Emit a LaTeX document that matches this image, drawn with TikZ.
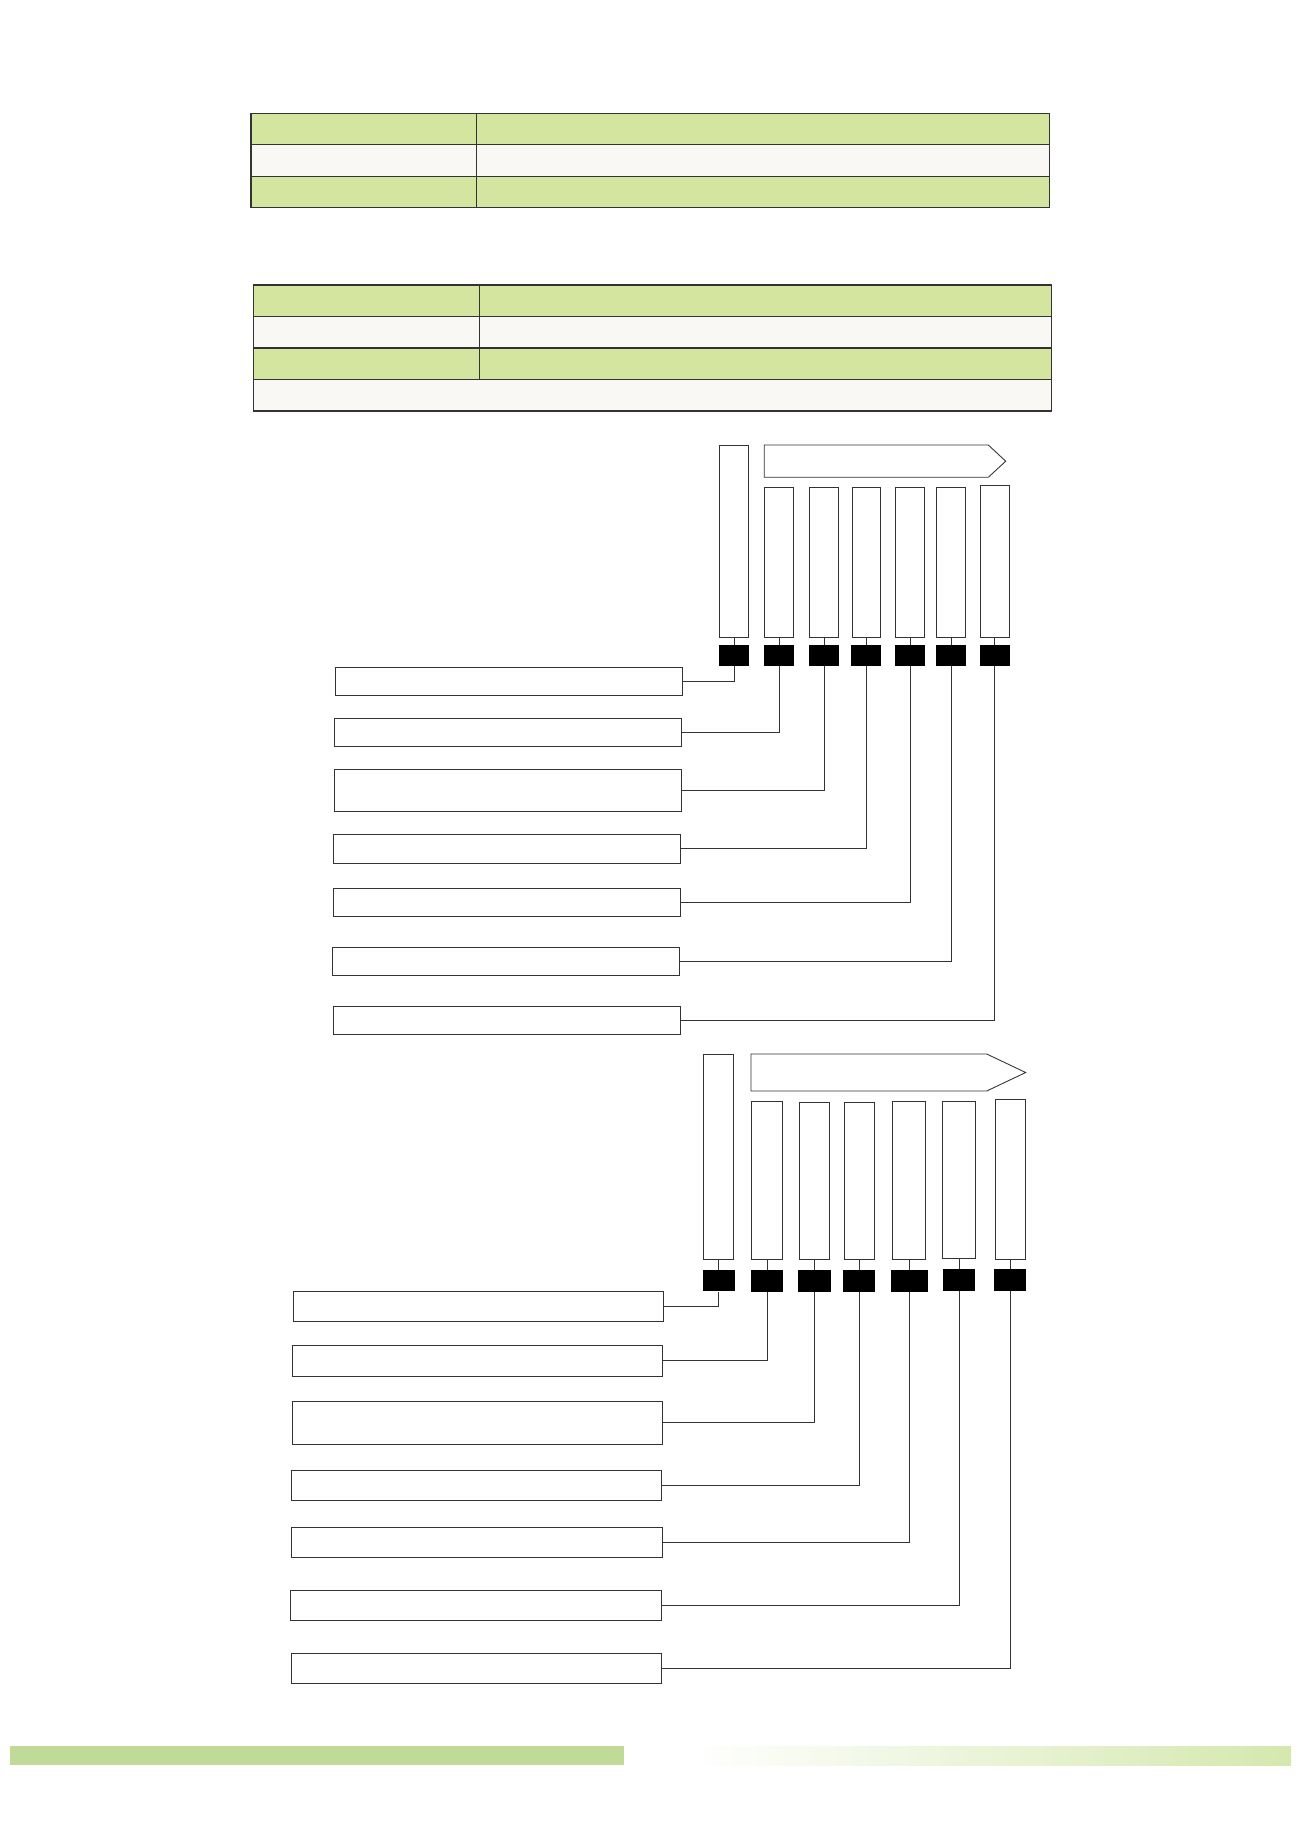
\documentclass[tikz,border=0pt]{standalone}
\usepackage{xcolor}
\usepackage{tikz}
\usetikzlibrary{positioning, calc}
\definecolor{TabGreen}{HTML}{D3E59E}
\definecolor{TabWhite}{HTML}{F9F8F4}
\definecolor{BarGreen}{HTML}{C0DB98}
\definecolor{BarFade}{HTML}{D4E8AE}
\definecolor{EdgeGrey}{HTML}{333333}

\begin{document}
\begin{tikzpicture}[x=0.02cm, y=-0.02cm, node distance=0pt, every node/.style={inner sep=0pt}]
    \tikzstyle{greencell} = [rectangle, draw=EdgeGrey, fill=TabGreen, line width=0.6pt, outer sep=0pt, anchor=north west, minimum height=0.63cm]
    \tikzstyle{whitecell} = [rectangle, draw=EdgeGrey, fill=TabWhite, line width=0.6pt, outer sep=0pt, anchor=north west, minimum height=0.63cm]
    \tikzstyle{slot} = [rectangle, draw=EdgeGrey, fill=white, line width=0.5pt, anchor=north west, minimum width=0.57cm, minimum height=3.02cm]
    \tikzstyle{chip} = [rectangle, fill=black, minimum width=0.6cm, minimum height=0.42cm]
    \tikzstyle{tagbox} = [rectangle, draw=EdgeGrey, fill=white, line width=0.5pt, anchor=north west, minimum width=6.94cm, minimum height=0.565cm]
    \tikzstyle{link} = [draw, EdgeGrey, line width=0.5pt]

    \useasboundingbox (0,0) rectangle (1300,1839);

    % first table
    \node [greencell, minimum width=4.52cm] (ta1) at (251,113.3) {};
    \node [greencell, minimum width=11.46cm, right=of ta1] (tb1) {};
    \node [whitecell, minimum width=4.52cm, below=of ta1] (ta2) {};
    \node [whitecell, minimum width=11.46cm, right=of ta2] (tb2) {};
    \node [greencell, minimum width=4.52cm, below=of ta2] (ta3) {};
    \node [greencell, minimum width=11.46cm, right=of ta3] (tb3) {};

    % second table
    \node [greencell, minimum width=4.52cm] (ua1) at (253.5,285) {};
    \node [greencell, minimum width=11.45cm, right=of ua1] (ub1) {};
    \node [whitecell, minimum width=4.52cm, below=of ua1] (ua2) {};
    \node [whitecell, minimum width=11.45cm, right=of ua2] (ub2) {};
    \node [greencell, minimum width=4.52cm, below=of ua2] (ua3) {};
    \node [greencell, minimum width=11.45cm, right=of ua3] (ub3) {};
    \node [whitecell, minimum width=15.97cm, below=of ua3.south west, anchor=north west] (ua4) {};

    % upper board
    \node [slot, minimum width=0.58cm, minimum height=3.85cm] (s0) at (719.3,445) {};
    \draw [link, fill=white] (764.3,445) -- (988.3,445) -- (1005.7,461.2) -- (988.3,477.3) -- (764.3,477.3) -- cycle;
    \node [slot] (s1) at (764.3,486.5) {};
    \node [slot] (s2) at (809.3,486.5) {};
    \node [slot] (s3) at (851.7,486.5) {};
    \node [slot] (s4) at (895.3,486.5) {};
    \node [slot] (s5) at (936.3,486.5) {};
    \node [slot, minimum height=3.05cm] (s6) at (980,485) {};

    \node [chip, below=0.125cm of s0] (p0) {};
    \node [chip, below=0.125cm of s1] (p1) {};
    \node [chip, below=0.125cm of s2] (p2) {};
    \node [chip, below=0.125cm of s3] (p3) {};
    \node [chip, below=0.125cm of s4] (p4) {};
    \node [chip, below=0.125cm of s5] (p5) {};
    \node [chip, below=0.125cm of s6] (p6) {};

    \node [tagbox] (l1) at (335.3,666.7) {};
    \node [tagbox] (l2) at (334.3,718) {};
    \node [tagbox, minimum height=0.83cm] (l3) at (334.3,769.3) {};
    \node [tagbox] (l4) at (333.2,834.3) {};
    \node [tagbox] (l5) at (333.2,888.2) {};
    \node [tagbox] (l6) at (332,946.8) {};
    \node [tagbox] (l7) at (333.2,1005.5) {};

    \path [link] (s0) -- (p0);
    \path [link] (s1) -- (p1);
    \path [link] (s2) -- (p2);
    \path [link] (s3) -- (p3);
    \path [link] (s4) -- (p4);
    \path [link] (s5) -- (p5);
    \path [link] (s6) -- (p6);
    \path [link] (p0) |- (l1);
    \path [link] (p1) |- (l2);
    \path [link] (p2) |- (l3);
    \path [link] (p3) |- (l4);
    \path [link] (p4) |- (l5);
    \path [link] (p5) |- (l6);
    \path [link] (p6) |- (l7);

    % lower board
    \node [slot, minimum width=0.6cm, minimum height=4.1cm] (r0) at (703.3,1054.3) {};
    \draw [link, fill=white] (751,1054) -- (986.7,1054) -- (1025.7,1072.5) -- (986.7,1091) -- (751,1091) -- cycle;
    \node [slot, minimum width=0.61cm, minimum height=3.16cm] (r1) at (751.3,1101.3) {};
    \node [slot, minimum width=0.6cm, minimum height=3.15cm] (r2) at (799.3,1102) {};
    \node [slot, minimum width=0.61cm, minimum height=3.15cm] (r3) at (843.7,1102) {};
    \node [slot, minimum width=0.66cm, minimum height=3.16cm] (r4) at (892.3,1101.3) {};
    \node [slot, minimum width=0.66cm, minimum height=3.14cm] (r5) at (942.3,1101.3) {};
    \node [slot, minimum width=0.61cm, minimum height=3.2cm] (r6) at (994.7,1098.7) {};

    \node [chip, minimum width=0.64cm, minimum height=0.43cm, below=0.19cm of r0] (q0) {};
    \node [chip, minimum width=0.64cm, minimum height=0.43cm, below=0.19cm of r1] (q1) {};
    \node [chip, minimum width=0.65cm, minimum height=0.43cm, below=0.19cm of r2] (q2) {};
    \node [chip, minimum width=0.64cm, minimum height=0.43cm, below=0.19cm of r3] (q3) {};
    \node [chip, minimum width=0.74cm, minimum height=0.43cm, below=0.19cm of r4] (q4) {};
    \node [chip, minimum width=0.64cm, minimum height=0.43cm, below=0.19cm of r5] (q5) {};
    \node [chip, minimum width=0.64cm, minimum height=0.43cm, below=0.19cm of r6] (q6) {};

    \node [tagbox, minimum width=7.41cm, minimum height=0.606cm] (m1) at (292.7,1290.7) {};
    \node [tagbox, minimum width=7.41cm, minimum height=0.606cm] (m2) at (292,1345.3) {};
    \node [tagbox, minimum width=7.41cm, minimum height=0.866cm] (m3) at (291.7,1400.7) {};
    \node [tagbox, minimum width=7.41cm, minimum height=0.606cm] (m4) at (291,1469.7) {};
    \node [tagbox, minimum width=7.41cm, minimum height=0.6cm] (m5) at (291.3,1527.3) {};
    \node [tagbox, minimum width=7.41cm, minimum height=0.606cm] (m6) at (290.3,1590) {};
    \node [tagbox, minimum width=7.4cm, minimum height=0.606cm] (m7) at (291.3,1652.7) {};

    \path [link] (r0) -- (q0);
    \path [link] (r1) -- (q1);
    \path [link] (r2) -- (q2);
    \path [link] (r3) -- (q3);
    \path [link] (r4) -- (q4);
    \path [link] (r5) -- (q5);
    \path [link] (r6) -- (q6);
    \path [link] (q0) |- (m1);
    \path [link] (q1) |- (m2);
    \path [link] (q2) |- (m3);
    \path [link] (q3) |- (m4);
    \path [link] (q4) |- (m5);
    \path [link] (q5) |- (m6);
    \path [link] (q6) |- (m7);

    % footer bars
    \fill [BarGreen] (10,1746) rectangle (624,1765);
    \shade [left color=white, right color=BarFade] (692,1746) rectangle (1291,1765);
\end{tikzpicture}
\end{document}
